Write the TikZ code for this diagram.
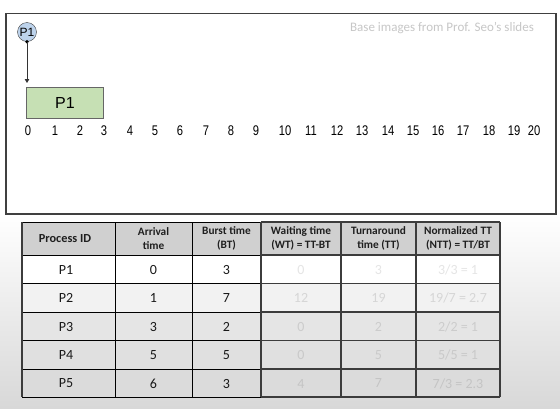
\documentclass[tikz,border=0pt]{standalone}
\usepackage{fontspec}
\setmainfont{Carlito}
\newfontfamily\arialfont{Liberation Sans}
\newfontfamily\narrowfont[FakeStretch=0.8]{Liberation Sans}
\usetikzlibrary{arrows.meta}
\definecolor{boxline}{HTML}{404040}
\definecolor{circblue}{HTML}{BDD3EC}
\definecolor{ganttgreen}{HTML}{C6E0B4}
\definecolor{hdrgray}{HTML}{D0D0D0}
\definecolor{bgbot}{HTML}{D8D8D8}
\definecolor{gridgray}{HTML}{3C3C3C}
\tikzset{
  tick/.style={font=\narrowfont\fontsize{14}{14}\selectfont, inner sep=0},
  hdr/.style={font=\bfseries\fontsize{11.3}{13.5}\selectfont, text=black!88, align=center, inner sep=0},
  cell/.style={font=\fontsize{14}{14}\selectfont, text=black!90, inner sep=0},
}
\begin{document}
\begin{tikzpicture}[x=1pt,y=-1pt]
\useasboundingbox (0,0) rectangle (560,408);
\fill[white] (0,0) rectangle (560,408);
\shade[top color=white, bottom color=bgbot] (0,214) rectangle (560,408);
% top box
\draw[boxline, line width=1.3, fill=white] (6,13.5) rectangle (556,214);
\node[text=black!22, font=\fontsize{13}{14}\selectfont, inner sep=0] (wm) at (442,28) {Base images from Prof. Seo’s slides};
% process arrival
\node[circle, draw=boxline, fill=circblue, minimum size=19, inner sep=0, font=\arialfont\fontsize{12}{12}\selectfont] (c1) at (27,32) {P1};
\fill (c1.south) circle (1.8);
\coordinate (a1) at (27,83);
\draw[black!80, line width=0.8, -{Triangle[length=4,width=4.5]}] (c1.south) -- (a1);
\node[draw=black!60, line width=0.8, fill=ganttgreen, minimum width=77, minimum height=31, inner sep=0, anchor=north west, font=\arialfont\fontsize{16}{16}\selectfont] (b1) at (26,87) {P1};
% axis
\foreach \n/\x in {0/28,1/55,2/80,3/104,4/130,5/155,6/180,7/206,8/231,9/256,10/285,11/311,12/337,13/362,14/388,15/413,16/438,17/463,18/489,19/514,20/534}
  \node[tick] (t\n) at (\x,131) {\n};
% table fills
\fill[hdrgray] (22,222) rectangle (500,255);
\fill[white] (22,255) rectangle (500,283.5);
\fill[black!5] (22,283.5) rectangle (500,312);
\fill[black!10] (22,312) rectangle (500,340.5);
\fill[black!12] (22,340.5) rectangle (500,369);
\fill[black!14] (22,369) rectangle (500,397);
% grid
\foreach \y in {222,255,283.5,312,340.5,369,397}{
  \draw[black, line width=0.9] (22,\y) -- (261,\y);
  \draw[gridgray, line width=1.3] (261,\y) -- (500,\y);
}
\foreach \x in {115,192}
  \draw[black, line width=0.9] (\x,222) -- (\x,397);
\foreach \x in {22,261,341,416,500}
  \draw[gridgray, line width=1.3] (\x,222) -- (\x,397);
% header
\node[hdr, font=\bfseries\fontsize{12.3}{13.5}\selectfont] (h1) at (65,238.5) {Process ID};
\node[hdr] (h2) at (153.5,238.5) {Arrival\\time};
\node[hdr] (h3) at (226.5,238.5) {Burst time\\(BT)};
\node[hdr] (h4) at (301,238.5) {Waiting time\\(WT) = TT-BT};
\node[hdr] (h5) at (378.5,238.5) {Turnaround\\time (TT)};
\node[hdr] (h6) at (458,238.5) {Normalized TT\\(NTT) = TT/BT};
% rows
\foreach \r/\y/\p/\a/\b/\w/\t/\nt/\fc in {
  1/269.5/P1/0/3/0/3/{3/3 = 1}/black!10,
  2/298/P2/1/7/12/19/{19/7 = 2.7}/black!16,
  3/326.5/P3/3/2/0/2/{2/2 = 1}/black!20,
  4/355/P4/5/5/0/5/{5/5 = 1}/black!21,
  5/383.5/P5/6/3/4/7/{7/3 = 2.3}/black!23}{
  \node[cell] (r\r c1) at (66,\y) {\p};
  \node[cell] (r\r c2) at (153.5,\y) {\a};
  \node[cell] (r\r c3) at (226.5,\y) {\b};
  \node[cell, text=\fc] (r\r c4) at (301,\y) {\w};
  \node[cell, text=\fc] (r\r c5) at (378.5,\y) {\t};
  \node[cell, text=\fc] (r\r c6) at (458,\y) {\nt};
}
\end{tikzpicture}
\end{document}
